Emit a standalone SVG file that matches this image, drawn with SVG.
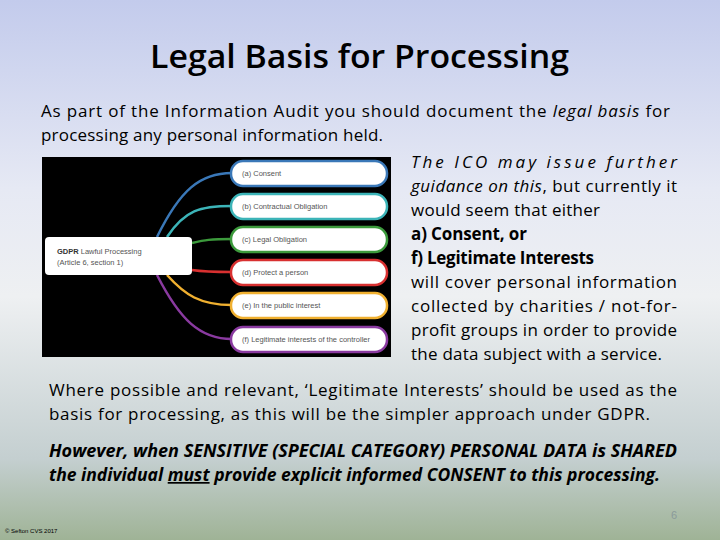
<svg xmlns="http://www.w3.org/2000/svg" width="720" height="540" viewBox="0 0 720 540">
<defs>
<linearGradient id="bg" x1="0" y1="0" x2="0" y2="1">
<stop offset="0" stop-color="#c3cbec"/>
<stop offset="0.35" stop-color="#e6e9f4"/>
<stop offset="0.55" stop-color="#eef0f2"/>
<stop offset="0.85" stop-color="#c4cfd0"/>
<stop offset="1" stop-color="#9fb396"/>
</linearGradient>
<style>
.t{font-family:"Open Sans","Liberation Sans",sans-serif;font-size:17px;fill:#000}
.i{font-style:italic}
.b{font-weight:bold}
.pill{fill:#fff;stroke-width:2.5}
.lbl{font-family:"Liberation Sans",sans-serif;font-size:7.5px;fill:#555}
.c{fill:none;stroke-width:2.5}
</style>
</defs>
<rect width="720" height="540" fill="url(#bg)"/>
<text x="150" y="68" textLength="419" lengthAdjust="spacingAndGlyphs" font-family="Open Sans,Liberation Sans,sans-serif" font-weight="600" font-size="32" fill="#000">Legal Basis for Processing</text>
<text class="t" x="41" y="117" textLength="629" lengthAdjust="spacing">As part of the Information Audit you should document the <tspan class="i">legal basis</tspan> for</text>
<text class="t" x="41" y="141" textLength="342" lengthAdjust="spacing">processing any personal information held.</text>
<g id="image">
<rect x="42" y="157" width="349" height="200" fill="#000"/>
<g id="connectors">
<path class="c" stroke="#3a78b8" d="M157,237 C180,190 200,173 232,173"/>
<path class="c" stroke="#3cb4b8" d="M167,237 C185,210 200,206 232,206"/>
<path class="c" stroke="#3c9a3c" d="M192,243 C205,240 210,239 232,239"/>
<path class="c" stroke="#d83030" d="M192,270 C205,272 210,272 232,272"/>
<path class="c" stroke="#f0b030" d="M167,275 C185,295 200,305 232,305"/>
<path class="c" stroke="#8a3aa0" d="M157,275 C180,320 200,339 232,339"/>
</g>
<g id="center"><rect x="45" y="237" width="147" height="38" rx="4" fill="#fff"/>
<text class="lbl" x="57" y="254" font-size="8.5"><tspan font-weight="bold" fill="#333">GDPR</tspan> Lawful Processing</text>
<text class="lbl" x="57" y="265" font-size="8.5">(Article 6, section 1)</text></g>
<g id="n1"><rect class="pill" stroke="#3a78b8" x="231" y="161" width="156" height="25" rx="12"/><text class="lbl" x="242" y="176">(a) Consent</text></g>
<g id="n2"><rect class="pill" stroke="#3cb4b8" x="231" y="194" width="156" height="25" rx="12"/><text class="lbl" x="242" y="209">(b) Contractual Obligation</text></g>
<g id="n3"><rect class="pill" stroke="#3c9a3c" x="231" y="227" width="156" height="25" rx="12"/><text class="lbl" x="242" y="242">(c) Legal Obligation</text></g>
<g id="n4"><rect class="pill" stroke="#d83030" x="231" y="260" width="156" height="25" rx="12"/><text class="lbl" x="242" y="275">(d) Protect a person</text></g>
<g id="n5"><rect class="pill" stroke="#f0b030" x="231" y="293" width="156" height="25" rx="12"/><text class="lbl" x="242" y="308">(e) In the public interest</text></g>
<g id="n6"><rect class="pill" stroke="#8a3aa0" x="231" y="327" width="156" height="25" rx="12"/><text class="lbl" x="242" y="342">(f) Legitimate interests of the controller</text></g>
</g>
<text class="t i" x="411" y="168" textLength="266" lengthAdjust="spacing">The ICO may issue further</text>
<text class="t" x="411" y="192" textLength="266" lengthAdjust="spacing"><tspan class="i">guidance on this</tspan>, but currently it</text>
<text class="t" x="411" y="216" textLength="189" lengthAdjust="spacing">would seem that either</text>
<text class="t b" x="411" y="240" textLength="116" lengthAdjust="spacing">a) Consent, or</text>
<text class="t b" x="411" y="264" textLength="183" lengthAdjust="spacing">f) Legitimate Interests</text>
<text class="t" x="411" y="288" textLength="266" lengthAdjust="spacing">will cover personal information</text>
<text class="t" x="411" y="312" textLength="266" lengthAdjust="spacing">collected by charities / not-for-</text>
<text class="t" x="411" y="336" textLength="266" lengthAdjust="spacing">profit groups in order to provide</text>
<text class="t" x="411" y="360" textLength="251" lengthAdjust="spacing">the data subject with a service.</text>
<text class="t" x="49" y="396" textLength="628" lengthAdjust="spacing">Where possible and relevant, ‘Legitimate Interests’ should be used as the</text>
<text class="t" x="49" y="420" textLength="601" lengthAdjust="spacing">basis for processing, as this will be the simpler approach under GDPR.</text>
<text class="t b i" x="49" y="457" textLength="628" lengthAdjust="spacingAndGlyphs">However, when SENSITIVE (SPECIAL CATEGORY) PERSONAL DATA is SHARED</text>
<text class="t b i" x="49" y="481" textLength="611" lengthAdjust="spacingAndGlyphs">the individual <tspan text-decoration="underline">must</tspan> provide explicit informed CONSENT to this processing.</text>
<text x="677" y="519" text-anchor="end" font-family="Liberation Sans,sans-serif" font-size="11" fill="#8a9a9a">6</text>
<text x="5" y="533" font-family="Liberation Sans,sans-serif" font-size="6" fill="#000">© Sefton CVS 2017</text>
</svg>
